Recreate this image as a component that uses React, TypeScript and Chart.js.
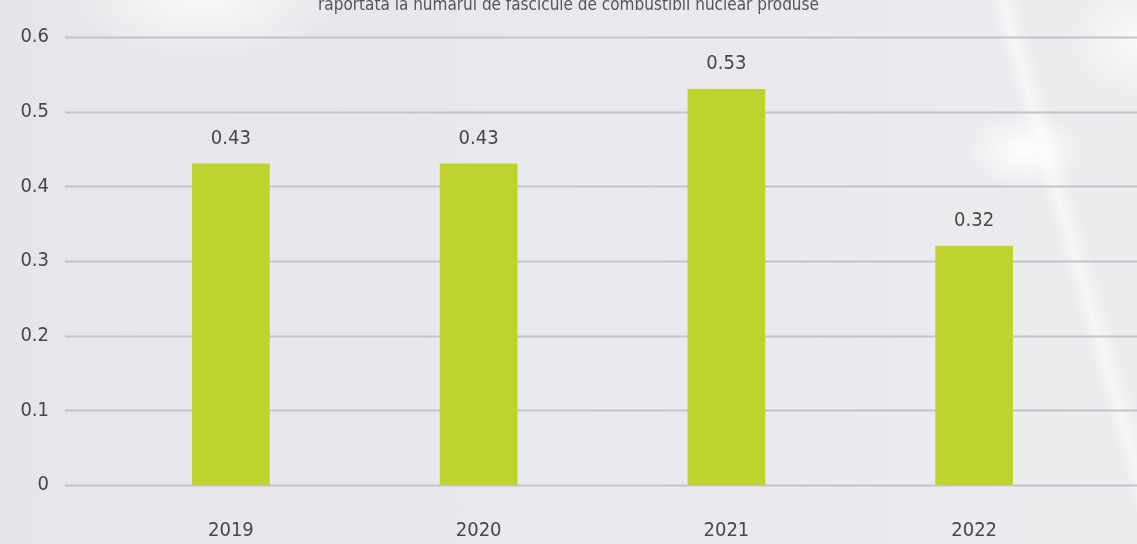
import React, { useEffect, useRef } from "react";
import { Chart, registerables } from "chart.js";

Chart.register(...registerables);

const TITLE = "raportată la numărul de fascicule de combustibil nuclear produse";
const CATEGORIES = ["2019", "2020", "2021", "2022"];
const VALUES = [0.43, 0.43, 0.53, 0.32];
const VALUE_LABELS = ["0.43", "0.43", "0.53", "0.32"];
const Y_MIN = 0;
const Y_MAX = 0.6;
const Y_STEP = 0.1;

const FONT = "'DejaVu Sans Condensed', 'DejaVu Sans', sans-serif";
const TEXT = "#474747";
const BAR = "#bfd32e";
const GRID = "#c4c4c8";

const W = 1137;
const H = 544;

const extrasPlugin = {
  id: "extras",
  beforeDatasetsDraw(chart: any) {
    const { ctx } = chart;
    const y = chart.scales.y;
    ctx.save();
    ctx.strokeStyle = GRID;
    ctx.lineWidth = 2;
    y.ticks.forEach((t: any) => {
      const py = Math.round(y.getPixelForValue(t.value)) + 0.5;
      ctx.beginPath();
      ctx.moveTo(65, py);
      ctx.lineTo(chart.width, py);
      ctx.stroke();
    });
    ctx.restore();
  },
  afterDatasetsDraw(chart: any) {
    const { ctx } = chart;
    const meta = chart.getDatasetMeta(0);
    ctx.save();
    ctx.fillStyle = TEXT;
    ctx.font = `20px ${FONT}`;
    ctx.textAlign = "center";
    ctx.textBaseline = "middle";
    meta.data.forEach((bar: any, i: number) => {
      ctx.fillText(VALUE_LABELS[i], bar.x, bar.y - 25);
    });
    ctx.font = `17px ${FONT}`;
    ctx.fillStyle = "#555";
    ctx.textBaseline = "alphabetic";
    ctx.fillText(TITLE, chart.width / 2, 10);
    ctx.restore();
  },
};

export default function App() {
  const ref = useRef<HTMLCanvasElement | null>(null);

  useEffect(() => {
    if (!ref.current) return;
    const chart = new Chart(ref.current, {
      type: "bar",
      data: {
        labels: CATEGORIES,
        datasets: [
          {
            data: VALUES,
            backgroundColor: BAR,
            borderWidth: 0,
            barThickness: 77,
          },
        ],
      },
      options: {
        responsive: false,
        animation: false,
        layout: { padding: { top: 37, right: 39, left: 0, bottom: 0 } },
        plugins: {
          legend: { display: false },
          tooltip: { enabled: false },
          title: { display: false },
        },
        scales: {
          x: {
            grid: { display: false, drawTicks: false },
            border: { display: false },
            ticks: {
              color: TEXT,
              font: { family: FONT, size: 20 },
              padding: 34,
              maxRotation: 0,
            },
            afterFit: (s: any) => {
              s.height = 59;
              s.paddingLeft = 0;
              s.paddingRight = 0;
            },
          },
          y: {
            min: Y_MIN,
            max: Y_MAX,
            grid: { display: false, drawTicks: false },
            border: { display: false },
            ticks: {
              stepSize: Y_STEP,
              color: TEXT,
              font: { family: FONT, size: 20 },
              padding: 58,
              callback: (v: any) => String(Number(Number(v).toFixed(1))),
            },
            afterFit: (s: any) => {
              s.width = 107;
              s.paddingTop = 0;
              s.paddingBottom = 0;
            },
          },
        },
      },
      plugins: [extrasPlugin],
    });
    return () => chart.destroy();
  }, []);

  const bg = [
    "radial-gradient(ellipse 60px 40px at 1025px 150px, rgba(255,255,255,0.95), rgba(255,255,255,0) 100%)",
    "radial-gradient(ellipse 140px 60px at 200px 0px, rgba(255,255,255,0.75), rgba(255,255,255,0) 100%)",
    "radial-gradient(ellipse 70px 60px at 1137px 40px, rgba(255,255,255,0.7), rgba(255,255,255,0) 100%)",
    "linear-gradient(74deg, rgba(255,255,255,0) 88.5%, rgba(255,255,255,0.55) 89.5%, rgba(255,255,255,0) 91%)",
    "linear-gradient(90deg, #e6e6ea 0%, #e9e9ed 50%, #ececef 100%)",
  ].join(", ");

  return (
    <div
      style={{
        position: "fixed",
        left: 0,
        top: 0,
        width: W,
        height: H,
        background: bg,
      }}
    >
      <canvas ref={ref} width={W} height={H} style={{ display: "block" }} />
    </div>
  );
}
